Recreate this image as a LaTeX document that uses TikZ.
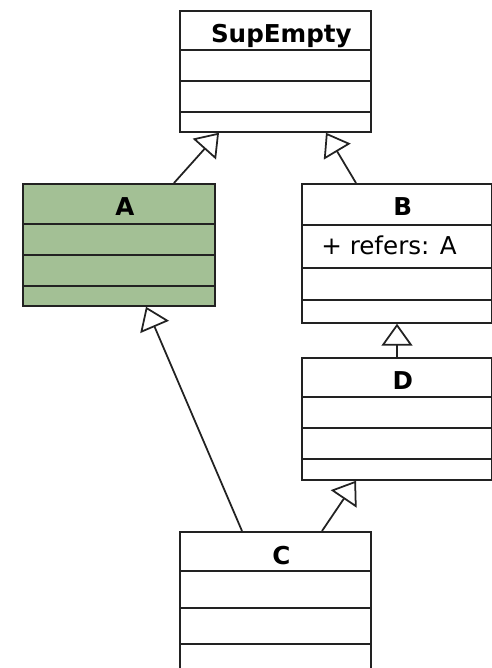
\documentclass[tikz,border=0pt]{standalone}
\usepackage{fontspec}
\setsansfont{DejaVu Sans}
\usetikzlibrary{arrows.meta,calc}
\definecolor{classgreen}{RGB}{163,192,149}
\definecolor{umlline}{RGB}{34,34,34}
\begin{document}
\begin{tikzpicture}[x=0.02cm,y=-0.02cm,
    umlclass/.style={draw=umlline,line width=1pt,rectangle,anchor=north west,
      inner sep=0pt,minimum width=3.82cm},
    umlrule/.style={draw=umlline,line width=1pt},
    classname/.style={font=\sffamily\bfseries\fontsize{14}{16}\selectfont,anchor=base},
    attrname/.style={font=\sffamily\fontsize{14}{16}\selectfont,anchor=base west,inner sep=0pt},
    gen/.style={draw=umlline,line width=1pt,-{Triangle[open,length=0.44cm,width=0.62cm]}}]
  \clip (0,0) rectangle (492,668);
  % class boxes
  \node[umlclass,minimum height=2.42cm] (sup) at (179,10) {};
  \node[umlclass,minimum height=2.44cm,fill=classgreen,minimum width=3.84cm] (A) at (22,183) {};
  \node[umlclass,minimum height=2.78cm,minimum width=3.8cm] (B) at (301,183) {};
  \node[umlclass,minimum height=2.44cm,minimum width=3.8cm] (D) at (301,357) {};
  \node[umlclass,minimum height=3.0cm] (C) at (179,531) {};
  % compartments
  \foreach \cls/\a/\b/\c in {sup/40/71/102, A/41/72/103, B/42/85/117, D/40/71/102, C/40/77/113} {
    \foreach \off in {\a,\b,\c} {
      \draw[umlrule] ($(\cls.north west)+(0,\off)$) -- ($(\cls.north east)+(0,\off)$);
    }
  }
  % names
  \node[classname] (supname) at ($(sup.north)+(6,33)$) {SupEmpty};
  \node[classname] (Aname) at ($(A.north)+(6,33)$) {A};
  \node[classname] (Bname) at ($(B.north)+(6,33)$) {B};
  \node[classname] (Dname) at ($(D.north)+(6,32)$) {D};
  \node[classname] (Cname) at ($(C.north)+(6,33)$) {C};
  \node[attrname] (Battr) at ($(B.north west)+(20,72)$) {+ refers: A};
  % generalisations
  \coordinate (supL) at ($(sup.south west)+(40,0)$);
  \coordinate (supR) at ($(sup.south west)+(147,0)$);
  \coordinate (Atop) at ($(A.north west)+(152,0)$);
  \coordinate (Abot) at ($(A.south west)+(124,0)$);
  \coordinate (Btop) at ($(B.north west)+(55,0)$);
  \coordinate (Bbot) at ($(B.south west)+(96,0)$);
  \coordinate (Dtop) at ($(D.north west)+(96,0)$);
  \coordinate (Dbot) at ($(D.south west)+(55,0)$);
  \coordinate (CtopL) at ($(C.north west)+(63,0)$);
  \coordinate (CtopR) at ($(C.north west)+(143,0)$);
  \draw[gen] (Atop) -- (supL);
  \draw[gen] (Btop) -- (supR);
  \draw[gen] (Dtop) -- (Bbot);
  \draw[gen] (CtopL) -- (Abot);
  \draw[gen] (CtopR) -- (Dbot);
\end{tikzpicture}
\end{document}
